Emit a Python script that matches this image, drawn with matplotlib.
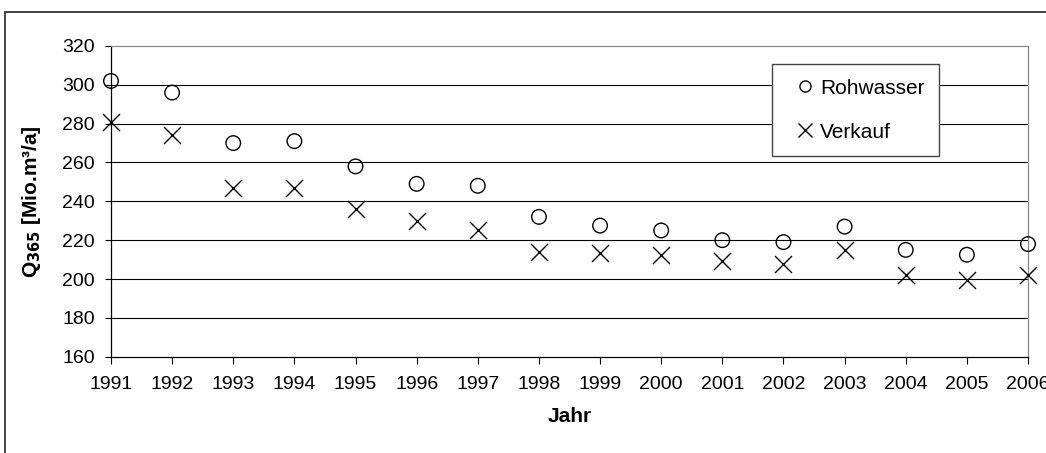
import matplotlib.pyplot as plt
from matplotlib.lines import Line2D
from matplotlib.patches import Rectangle

plt.rcParams['font.family'] = ['Liberation Sans', 'DejaVu Sans']

# Data
jahre = [1991, 1992, 1993, 1994, 1995, 1996, 1997, 1998,
         1999, 2000, 2001, 2002, 2003, 2004, 2005, 2006]
rohwasser = [302, 296, 270, 271, 258, 249, 248, 232,
             227.5, 225, 220, 219, 227, 215, 212.5, 218]
verkauf = [281, 274, 247, 247, 236, 230, 225, 214,
           213.5, 212.5, 209.5, 207.5, 215, 202, 199.5, 202]
y_ticks = [160, 180, 200, 220, 240, 260, 280, 300, 320]

fig = plt.figure(figsize=(10.46, 4.53), dpi=100)
ax = fig.add_axes([0.1061, 0.2126, 0.8767, 0.6859])

# outer chart border (only left/top visible in the crop)
fig.patches.append(Rectangle((5 / 1046, -0.1), 1.2, 1 - 12 / 453 + 0.1,
                             transform=fig.transFigure, fill=False,
                             edgecolor='#333333', lw=1.3))

for y in y_ticks[1:-1]:
    ax.axhline(y, color='black', lw=0.8, zorder=1)

ax.scatter(jahre, rohwasser, s=110, marker='o', facecolors='none',
           edgecolors='black', linewidths=1.0, zorder=3, clip_on=False)
ax.scatter(jahre, verkauf, s=150, marker='x', color='black',
           linewidths=1.0, zorder=3, clip_on=False)

ax.set_xlim(1991, 2006)
ax.set_ylim(160, 320)
ax.set_xticks(jahre)
ax.set_yticks(y_ticks)
ax.tick_params(axis='x', direction='out', length=5, width=0.8,
               labelsize=14, pad=9)
ax.tick_params(axis='y', direction='out', length=4.5, width=0.8,
               labelsize=14, pad=7)

for s in ['left', 'bottom']:
    ax.spines[s].set_color('black')
    ax.spines[s].set_linewidth(0.9)
for s in ['top', 'right']:
    ax.spines[s].set_color('#888888')
    ax.spines[s].set_linewidth(0.9)

ax.set_xlabel('Jahr', fontsize=15, fontweight='bold', labelpad=10)
ax.set_ylabel('Q$_{\\mathbf{365}}$ [Mio.m³/a]', fontsize=15,
              fontweight='bold', labelpad=14)

handles = [Line2D([0], [0], marker='o', ls='none', markersize=8,
                  markerfacecolor='none', markeredgecolor='black',
                  markeredgewidth=1.0),
           Line2D([0], [0], marker='x', ls='none', markersize=10,
                  color='black', markeredgewidth=1.0)]
leg = ax.legend(handles, ['Rohwasser', 'Verkauf'], loc='upper left',
                bbox_to_anchor=(0.7208, 0.942), borderaxespad=0,
                fontsize=15, frameon=True, fancybox=False,
                edgecolor='#444444', framealpha=1, borderpad=0.7,
                handlelength=1.8, handletextpad=-0.2, labelspacing=1.2)
leg.get_frame().set_linewidth(1.0)

fig.savefig('out.png', dpi=100)
